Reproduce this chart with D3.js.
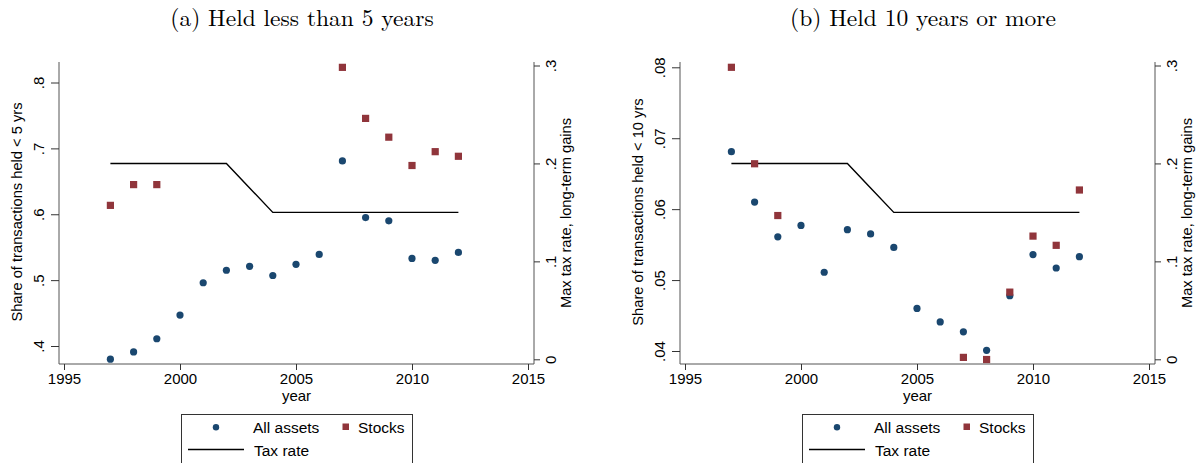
<!DOCTYPE html>
<html>
<head>
<meta charset="utf-8">
<script src="https://cdn.jsdelivr.net/npm/d3@7"></script>
<style>
  body { margin: 0; background: #fff; }
  text { font-family: "Liberation Sans", Arial, sans-serif; fill: #000; }
  .title { font-family: "Latin Modern Roman", "DejaVu Serif", serif; font-size: 23.5px; }
  .axis path { stroke: #555; }
  .axis line { stroke: #333; }
</style>
</head>
<body>
<div id="chart"></div>
<script>
//begin: data
const years = [1997, 1998, 1999, 2000, 2001, 2002, 2003, 2004, 2005, 2006, 2007, 2008, 2009, 2010, 2011, 2012];
const taxRate = [0.2, 0.2, 0.2, 0.2, 0.2, 0.2, 0.175, 0.15, 0.15, 0.15, 0.15, 0.15, 0.15, 0.15, 0.15, 0.15];

// panel (a): share held < 5 yrs
const allAssetsA = [0.380, 0.391, 0.411, 0.447, 0.496, 0.515, 0.521, 0.507, 0.524, 0.539, 0.681, 0.595, 0.590, 0.533, 0.530, 0.542];
const stocksA = [0.6135, 0.645, 0.645, null, null, null, null, null, null, null, 0.823, 0.7455, 0.717, 0.674, 0.695, 0.688];

// panel (b): share held < 10 yrs
const allAssetsB = [0.0681, 0.0610, 0.0561, 0.0577, 0.0511, 0.0571, 0.0565, 0.0546, 0.0460, 0.0441, 0.0427, 0.0401, 0.0478, 0.0536, 0.0517, 0.0533];
const stocksB = [0.0800, 0.0664, 0.0591, null, null, null, null, null, null, null, 0.0391, 0.0388, 0.0483, 0.0562, 0.0549, 0.0627];

const xTicks = [1995, 2000, 2005, 2010, 2015];
const yTicksA = [0.4, 0.5, 0.6, 0.7, 0.8];
const yTicksB = [0.04, 0.05, 0.06, 0.07, 0.08];
const taxTicks = [0, 0.1, 0.2, 0.3];
//end: data

//begin: drawing conf.
const width = 1199, height = 463;
const navy = "#1a476f", maroon = "#90353b";
const panelShift = 621;
//end: drawing conf.

const svg = d3.select("#chart").append("svg")
  .attr("width", width)
  .attr("height", height);

const fmt = v => v === 0 ? "0" : String(v).replace(/^0\./, ".");

function drawPanel(ox, cfg) {
  const g = svg.append("g").attr("transform", "translate(" + [ox, 0] + ")");
  const left = 59, right = 534, top = 62, bottom = 364;

  const x = d3.scaleLinear().domain([1995, 2015]).range([64, 528]);
  const yL = d3.scaleLinear().domain(cfg.yDomain).range(cfg.yRange);
  const yR = d3.scaleLinear().domain([0, 0.3]).range([359.3, 65.5]);

  g.append("text")
    .attr("class", "title")
    .attr("x", 302).attr("y", 26)
    .attr("text-anchor", "middle")
    .text(cfg.title);

  // left axis
  const axL = g.append("g").attr("class", "axis")
    .attr("transform", "translate(" + [left, 0] + ")")
    .call(d3.axisLeft(yL).tickValues(cfg.yTicks).tickFormat(fmt).tickSize(8).tickSizeOuter(0));
  axL.select(".domain").attr("d", "M0," + top + "V" + bottom);
  axL.selectAll(".tick text")
    .attr("transform", "rotate(-90)")
    .attr("x", 0).attr("y", -20)
    .attr("dy", "0.35em")
    .attr("text-anchor", "middle")
    .style("font-size", "15px");

  // right axis
  const axR = g.append("g").attr("class", "axis")
    .attr("transform", "translate(" + [right, 0] + ")")
    .call(d3.axisRight(yR).tickValues(taxTicks).tickFormat(fmt).tickSize(6).tickSizeOuter(0));
  axR.select(".domain").attr("d", "M0," + top + "V" + bottom);
  axR.selectAll(".tick text")
    .attr("transform", "rotate(-90)")
    .attr("x", 0).attr("y", 17)
    .attr("dy", "0.35em")
    .attr("text-anchor", "middle")
    .style("font-size", "15px");

  // bottom axis
  const axB = g.append("g").attr("class", "axis")
    .attr("transform", "translate(" + [0, bottom] + ")")
    .call(d3.axisBottom(x).tickValues(xTicks).tickFormat(d3.format("d")).tickSize(6).tickSizeOuter(0));
  axB.select(".domain").attr("d", "M" + left + ",0H" + right);
  axB.selectAll(".tick text")
    .attr("y", 9)
    .style("font-size", "15px");

  g.selectAll(".axis text").attr("fill", "#000").style("font-family", '"Liberation Sans", Arial, sans-serif');

  // axis titles
  g.append("text")
    .attr("transform", "translate(" + [22, 212] + ") rotate(-90)")
    .attr("text-anchor", "middle")
    .style("font-size", "14.7px")
    .text(cfg.yLabel);
  g.append("text")
    .attr("transform", "translate(" + [571, 213] + ") rotate(-90)")
    .attr("text-anchor", "middle")
    .style("font-size", "14.7px")
    .text("Max tax rate, long-term gains");
  g.append("text")
    .attr("x", 296.5).attr("y", 401)
    .attr("text-anchor", "middle")
    .style("font-size", "15px")
    .text("year");

  // tax line
  const line = d3.line().x((d, i) => x(years[i])).y(d => yR(d));
  g.append("path")
    .attr("d", line(taxRate))
    .attr("fill", "none")
    .attr("stroke", "#000")
    .attr("stroke-width", 1.4);

  // all assets
  g.selectAll(".dot")
    .data(years.map((yr, i) => ({ yr, v: cfg.all[i] })))
    .enter().append("circle")
    .attr("cx", d => x(d.yr))
    .attr("cy", d => yL(d.v))
    .attr("r", 3.6)
    .attr("fill", navy);

  // stocks
  const sq = 7.2;
  g.selectAll(".sq")
    .data(years.map((yr, i) => ({ yr, v: cfg.stocks[i] })).filter(d => d.v != null))
    .enter().append("rect")
    .attr("x", d => x(d.yr) - sq / 2)
    .attr("y", d => yL(d.v) - sq / 2)
    .attr("width", sq).attr("height", sq)
    .attr("fill", maroon);

  // legend
  const lg = g.append("g");
  lg.append("rect")
    .attr("x", 181.5).attr("y", 414.5)
    .attr("width", 231).attr("height", 60)
    .attr("fill", "none").attr("stroke", "#333").attr("stroke-width", 1);
  lg.append("circle").attr("cx", 216).attr("cy", 427.3).attr("r", 3.2).attr("fill", navy);
  lg.append("text").attr("x", 253).attr("y", 433).style("font-size", "15.5px").text("All assets");
  lg.append("rect").attr("x", 342.5).attr("y", 423.5).attr("width", 6.5).attr("height", 6.5).attr("fill", maroon);
  lg.append("text").attr("x", 358).attr("y", 433).style("font-size", "15.5px").text("Stocks");
  lg.append("line").attr("x1", 188).attr("x2", 244).attr("y1", 449.5).attr("y2", 449.5)
    .attr("stroke", "#000").attr("stroke-width", 1.3);
  lg.append("text").attr("x", 254).attr("y", 455.5).style("font-size", "15.5px").text("Tax rate");
}

drawPanel(0, {
  title: "(a) Held less than 5 years",
  yDomain: [0.4, 0.8], yRange: [346, 82.5],
  yTicks: yTicksA,
  yLabel: "Share of transactions held < 5 yrs",
  all: allAssetsA, stocks: stocksA
});

drawPanel(panelShift, {
  title: "(b) Held 10 years or more",
  yDomain: [0.04, 0.08], yRange: [351, 67.3],
  yTicks: yTicksB,
  yLabel: "Share of transactions held < 10 yrs",
  all: allAssetsB, stocks: stocksB
});
</script>
</body>
</html>
